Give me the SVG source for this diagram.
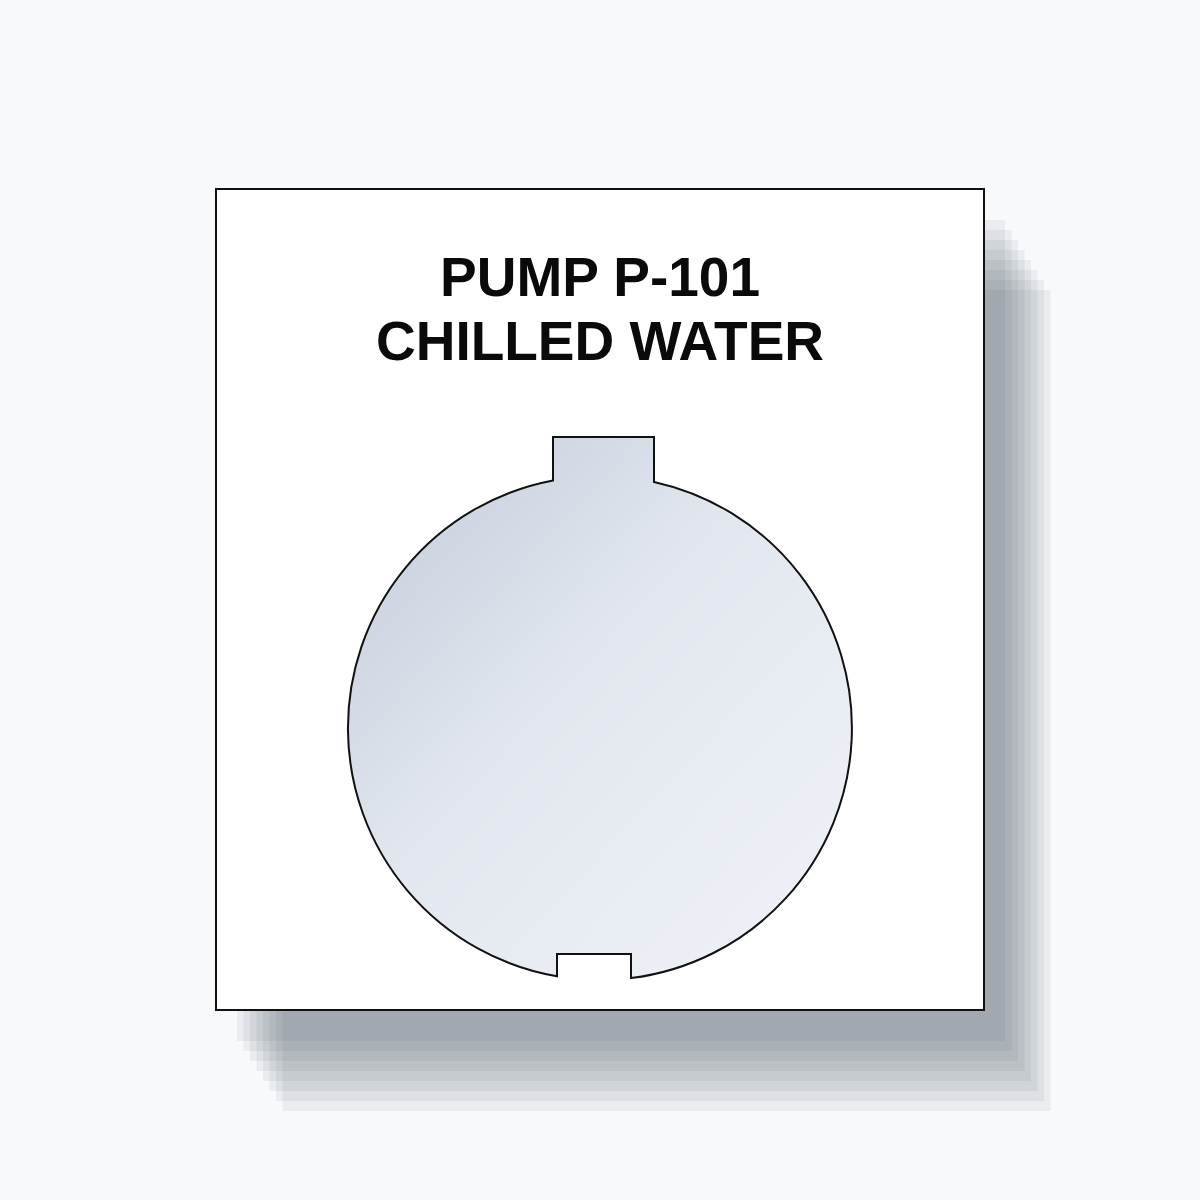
<svg xmlns="http://www.w3.org/2000/svg" width="1200" height="1200" viewBox="0 0 1200 1200">
  <defs>
    <linearGradient id="lens" x1="0" y1="0" x2="1" y2="1">
      <stop offset="0" stop-color="#c2cad8"/>
      <stop offset="0.45" stop-color="#e2e7ef"/>
      <stop offset="1" stop-color="#f0f3f8"/>
    </linearGradient>
  </defs>
  <style>
    .sh { fill: #3a4556; fill-opacity: 0.07; }
    .plate { fill: #ffffff; stroke: #111111; stroke-width: 2; }
    .cut { fill: url(#lens); stroke: #111111; stroke-width: 2; stroke-linejoin: miter; }
    .label { font-family: "Liberation Sans", Arial, sans-serif; font-weight: bold; font-size: 55px; fill: #0a0a0a; text-anchor: middle; }
  </style>
  <rect x="0" y="0" width="1200" height="1200" fill="#f8f9fb"/>
  <g id="shadow">
    <rect class="sh" x="237" y="220" width="768" height="821"/>
    <rect class="sh" x="243.5" y="230" width="768" height="821"/>
    <rect class="sh" x="250" y="240" width="768" height="821"/>
    <rect class="sh" x="256.5" y="250" width="768" height="821"/>
    <rect class="sh" x="263" y="260" width="768" height="821"/>
    <rect class="sh" x="269.5" y="270" width="768" height="821"/>
    <rect class="sh" x="276" y="280" width="768" height="821"/>
    <rect class="sh" x="282.5" y="290" width="768" height="821"/>
  </g>
  <g id="plate">
    <rect class="plate" x="216" y="189" width="768" height="821"/>
  </g>
  <g id="title">
    <text class="label" x="600" y="296">PUMP P-101</text>
    <text class="label" x="600" y="360">CHILLED WATER</text>
  </g>
  <g id="cutout">
    <path class="cut" d="M553,480.4 L553,437 L654,437 L654,481.9 A252,252 0 0 1 631,978.1 L631,954 L557,954 L557,976.3 A252,252 0 0 1 553,480.4 Z"/>
  </g>
  <g id="connectors"/>
</svg>
